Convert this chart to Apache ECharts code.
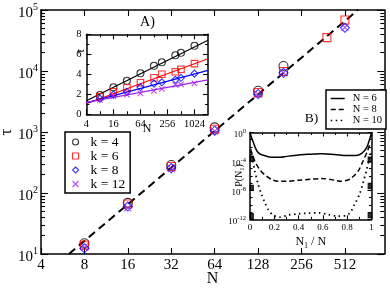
<!DOCTYPE html>
<html><head><meta charset="utf-8">
<script src="https://cdn.jsdelivr.net/npm/echarts@6/dist/echarts.min.js"></script>
<style>html,body{margin:0;padding:0;background:#fff}#c{width:390px;height:288px}</style>
</head><body><div id="c"></div>
<script>
// ---------------- main plot data ----------------
const mainN   = [8, 16, 32, 64, 128, 192, 384, 512];
const mainK4  = [15, 69, 287, 1190, 4750, 12100, null, null];
const mainK6  = [14, 66, 272, 1110, 4450, 9800, 35200, 68500];
const mainK8  = [12.4, 60, 256, 1050, 4200, 9350, null, 51000];
const mainK12 = [13, 57, 250, 1030, 4150, 9300, null, 52000];
const fitN    = [6.25, 631];
const fitTau  = [10, 100000];
const mainXTicks = [4, 8, 16, 32, 64, 128, 256, 512];
const mainYTicks = [10, 100, 1000, 10000, 100000];
const mainYMinor = [20,30,40,50,60,70,80,90,200,300,400,500,600,700,800,900,
  2000,3000,4000,5000,6000,7000,8000,9000,20000,30000,40000,50000,60000,70000,80000,90000];
const kNames = ['k = 4', 'k = 6', 'k = 8', 'k = 12'];

// ---------------- inset A data ----------------
const insetN   = [8, 16, 32, 64, 128, 192, 384, 512, 1024];
const insetK4  = [1.93, 2.7, 3.35, 4.1, 4.85, 5.2, 5.9, 6.15, 6.85];
const insetK6  = [1.75, 2.25, 2.65, 3.15, 3.65, 4.0, 4.25, 4.5, 5.07];
const insetK8  = [1.57, 1.97, 2.25, 2.7, 3.07, 3.2, 3.45, 3.65, 4.07];
const insetK12 = [1.45, 1.83, 1.97, 2.1, 2.35, 2.55, 2.95, 3.0, 3.1];
const insetFitN   = [4, 2048];
const insetFitK4  = [1.35, 7.4];
const insetFitK6  = [1.05, 5.55];
const insetFitK8  = [1.15, 4.4];
const insetFitK12 = [1.2, 3.45];
const insetXTicks = [4, 16, 64, 256, 1024];
const insetXMinor = [8, 32, 128, 512];

// ---------------- inset B data ----------------
const pX6 = [0, 0.015, 0.03, 0.055, 0.08, 0.1, 0.15, 0.2, 0.25, 0.3, 0.4, 0.5, 0.55, 0.6, 0.7, 0.8, 0.87, 0.92, 0.96, 0.985, 1];
const pY6 = [0.89, 0.16, 0.032, 3.2e-3, 1.1e-3, 7.9e-4, 4.5e-4, 3.8e-4, 3.8e-4, 5.0e-4, 7.9e-4, 1.0e-3, 1.1e-3, 1.2e-3, 8.9e-4, 6.6e-4, 6.6e-4, 1.3e-3, 7.9e-3, 0.13, 0.89];
const pX8 = [0.005, 0.04, 0.08, 0.12, 0.18, 0.23, 0.3, 0.4, 0.5, 0.59, 0.7, 0.75, 0.8, 0.83, 0.89, 0.93, 0.966, 0.985];
const pY8 = [5.0e-3, 1.07e-4, 7.4e-6, 1.5e-6, 3.1e-7, 1.8e-7, 1.8e-7, 2.5e-7, 3.5e-7, 4.3e-7, 2.5e-7, 1.8e-7, 2.5e-7, 4.3e-7, 4.5e-6, 1.07e-4, 2.5e-3, 2.1e-2];
const pX10 = [0.005, 0.019, 0.04, 0.068, 0.096, 0.123, 0.15, 0.19, 0.247, 0.315, 0.4, 0.48, 0.56, 0.64, 0.72, 0.81, 0.86, 0.9, 0.93, 0.957, 0.977, 0.993];
const pY10 = [2.5e-3, 3.0e-4, 4.5e-6, 6.3e-8, 2.6e-9, 1.9e-10, 2.3e-11, 3.8e-12, 2.0e-12, 3.8e-12, 5.8e-12, 7.1e-12, 7.9e-12, 4.7e-12, 2.8e-12, 4.7e-12, 1.1e-10, 2.6e-9, 1.07e-7, 4.5e-6, 1.07e-4, 1.5e-3];
const endLeftX = [0, 0, 0];
const endLeftY = [2.5e-4, 2.2e-8, 2.8e-12];
const endRightX = [1, 1, 1];
const endRightY = [1.8e-4, 4.0e-8, 3.8e-12];
const insetBYTicks = [1e-12, 1e-8, 1e-4, 1];
const insetBYMinor = [1e-11, 1e-10, 1e-9, 1e-7, 1e-6, 1e-5, 1e-3, 1e-2, 1e-1];
const nNames = ['N = 6', 'N = 8', 'N = 10'];

// ---------------- styling ----------------
const FONT = '"Liberation Serif", "DejaVu Serif", serif';
const BLACK = '#000', RED = '#ff0000', BLUE = '#0000ff', PURPLE = '#a020f0';
const XPATH = 'path://M0,0L10,10M10,0L0,10';
const CLEAR = 'rgba(0,0,0,0)';

function pairs(xs, ys) { const o = []; for (let i = 0; i < xs.length; i++) if (ys[i] != null) o.push([xs[i], ys[i]]); return o; }
function aline(show) { return {show: show, onZero: false, lineStyle: {color: BLACK, width: 1.5}}; }
function tick(len, vals) { const t = {show: true, inside: true, length: len, lineStyle: {color: BLACK, width: 1.1}}; if (vals) t.customValues = vals; return t; }
function ax(o) { return Object.assign({splitLine: {show: false}, silent: true, nameMoveOverlap: false, axisLabel: {show: false}}, o); }
const supFmt = v => '{b|10}{s|' + Math.round(Math.log10(v)) + '}';

const xAxis = [
  ax({type: 'log', logBase: 2, gridIndex: 0, min: 4, max: 960, position: 'bottom', axisLine: aline(true), axisTick: tick(6, mainXTicks),
      axisLabel: {show: true, customValues: mainXTicks, formatter: v => String(Math.round(v)), fontFamily: FONT, fontSize: 15, color: BLACK, margin: 4},
      name: 'N', nameLocation: 'middle', nameGap: 17, nameTextStyle: {fontFamily: FONT, fontSize: 16, color: BLACK}}),
  ax({type: 'log', logBase: 2, gridIndex: 0, min: 4, max: 960, position: 'top', axisLine: aline(true), axisTick: tick(6, mainXTicks)}),
  ax({type: 'log', logBase: 2, gridIndex: 1, min: 4, max: 2048, position: 'bottom', axisLine: aline(true), axisTick: tick(5, insetXTicks),
      axisLabel: {show: true, customValues: insetXTicks, formatter: v => String(Math.round(v)), fontFamily: FONT, fontSize: 10.5, color: BLACK, margin: 4},
      name: 'N', nameLocation: 'middle', nameGap: 9, nameTextStyle: {fontFamily: FONT, fontSize: 12, color: BLACK}}),
  ax({type: 'log', logBase: 2, gridIndex: 1, min: 4, max: 2048, position: 'bottom', axisLine: aline(false), axisTick: tick(3, insetXMinor)}),
  ax({type: 'log', logBase: 2, gridIndex: 1, min: 4, max: 2048, position: 'top', axisLine: aline(true), axisTick: tick(5, insetXTicks)}),
  ax({type: 'log', logBase: 2, gridIndex: 1, min: 4, max: 2048, position: 'top', axisLine: aline(false), axisTick: tick(3, insetXMinor)}),
  ax({type: 'value', gridIndex: 2, min: 0, max: 1, interval: 0.2, position: 'bottom', axisLine: aline(true), axisTick: tick(4),
      minorTick: {show: true, splitNumber: 2, length: 2.5, lineStyle: {color: BLACK, width: 1}},
      axisLabel: {show: true, fontFamily: FONT, fontSize: 9, color: BLACK, margin: 4},
      name: 'N{s|1} / N', nameLocation: 'middle', nameGap: 15,
      nameTextStyle: {fontFamily: FONT, fontSize: 12, color: BLACK, lineHeight: 16, rich: {s: {fontFamily: FONT, fontSize: 8, color: BLACK, verticalAlign: 'bottom', lineHeight: 8}}}}),
  ax({type: 'value', gridIndex: 2, min: 0, max: 1, interval: 0.2, position: 'top', axisLine: aline(true), axisTick: tick(4),
      minorTick: {show: true, splitNumber: 2, length: 2.5, lineStyle: {color: BLACK, width: 1}}})
];

const yAxis = [
  ax({type: 'log', logBase: 10, gridIndex: 0, min: 10, max: 100000, position: 'left', axisLine: aline(true), axisTick: tick(7, mainYTicks),
      axisLabel: {show: true, customValues: mainYTicks, formatter: supFmt, margin: 3, padding: [6, 0, 0, 0],
        rich: {b: {fontFamily: FONT, fontSize: 15, color: BLACK, lineHeight: 22}, s: {fontFamily: FONT, fontSize: 10, color: BLACK, verticalAlign: 'top', lineHeight: 10}}},
      name: 'τ', nameLocation: 'middle', nameRotate: 90, nameGap: 26, nameTextStyle: {fontFamily: FONT, fontSize: 17, color: BLACK}}),
  ax({type: 'log', logBase: 10, gridIndex: 0, min: 10, max: 100000, position: 'left', axisLine: aline(false), axisTick: tick(4, mainYMinor)}),
  ax({type: 'log', logBase: 10, gridIndex: 0, min: 10, max: 100000, position: 'right', axisLine: aline(true), axisTick: tick(7, mainYTicks)}),
  ax({type: 'log', logBase: 10, gridIndex: 0, min: 10, max: 100000, position: 'right', axisLine: aline(false), axisTick: tick(4, mainYMinor)}),
  ax({type: 'value', gridIndex: 1, min: 0, max: 8, interval: 2, position: 'left', axisLine: aline(true), axisTick: tick(5),
      minorTick: {show: true, splitNumber: 2, length: 3, lineStyle: {color: BLACK, width: 1}},
      axisLabel: {show: true, fontFamily: FONT, fontSize: 10.5, color: BLACK, margin: 5}}),
  ax({type: 'value', gridIndex: 1, min: 0, max: 8, interval: 2, position: 'right', axisLine: aline(true), axisTick: tick(5),
      minorTick: {show: true, splitNumber: 2, length: 3, lineStyle: {color: BLACK, width: 1}}}),
  ax({type: 'log', logBase: 10, gridIndex: 2, min: 1e-12, max: 1, position: 'left', axisLine: aline(true), axisTick: tick(4, insetBYTicks),
      axisLabel: {show: true, customValues: insetBYTicks, formatter: supFmt, margin: 4, padding: [4, 0, 0, 0],
        rich: {b: {fontFamily: FONT, fontSize: 9, color: BLACK, lineHeight: 14}, s: {fontFamily: FONT, fontSize: 6.5, color: BLACK, verticalAlign: 'top', lineHeight: 7}}}}),
  ax({type: 'log', logBase: 10, gridIndex: 2, min: 1e-12, max: 1, position: 'left', axisLine: aline(false), axisTick: tick(2.5, insetBYMinor)}),
  ax({type: 'log', logBase: 10, gridIndex: 2, min: 1e-12, max: 1, position: 'right', axisLine: aline(true), axisTick: tick(4, insetBYTicks)}),
  ax({type: 'log', logBase: 10, gridIndex: 2, min: 1e-12, max: 1, position: 'right', axisLine: aline(false), axisTick: tick(2.5, insetBYMinor)})
];

function scatter(name, xi, yi, data, sym, size, color, filled) {
  return {type: 'scatter', name: name, xAxisIndex: xi, yAxisIndex: yi, data: data, symbol: sym, symbolSize: size, z: 4,
    itemStyle: {color: filled ? color : CLEAR, borderColor: color, borderWidth: 1.1}};
}
function fitLine(name, xi, yi, data, color, width, type) {
  return {type: 'line', name: name, xAxisIndex: xi, yAxisIndex: yi, data: data, symbol: 'none', z: 3,
    itemStyle: {color: color}, lineStyle: {color: color, width: width, type: type || 'solid'}};
}

const series = [
  scatter(kNames[0], 0, 0, pairs(mainN, mainK4), 'circle', 9, BLACK),
  scatter(kNames[1], 0, 0, pairs(mainN, mainK6), 'rect', 8, RED),
  scatter(kNames[2], 0, 0, pairs(mainN, mainK8), 'diamond', 9, BLUE),
  scatter(kNames[3], 0, 0, pairs(mainN, mainK12), XPATH, 7, PURPLE),
  fitLine('fit', 0, 0, pairs(fitN, fitTau), BLACK, 2, [8, 5]),
  // inset A
  fitLine('A fit 4', 2, 4, pairs(insetFitN, insetFitK4), BLACK, 1.2),
  fitLine('A fit 6', 2, 4, pairs(insetFitN, insetFitK6), RED, 1.2),
  fitLine('A fit 8', 2, 4, pairs(insetFitN, insetFitK8), BLUE, 1.2),
  fitLine('A fit 12', 2, 4, pairs(insetFitN, insetFitK12), PURPLE, 1.2),
  scatter('A k4', 2, 4, pairs(insetN, insetK4), 'circle', 7, BLACK),
  scatter('A k6', 2, 4, pairs(insetN, insetK6), 'rect', 6.5, RED),
  scatter('A k8', 2, 4, pairs(insetN, insetK8), 'diamond', 7, BLUE),
  scatter('A k12', 2, 4, pairs(insetN, insetK12), XPATH, 5.5, PURPLE),
  // inset B
  Object.assign(fitLine(nNames[0], 6, 8, pairs(pX6, pY6), BLACK, 1.5), {smooth: 0.3}),
  Object.assign(fitLine(nNames[1], 6, 8, pairs(pX8, pY8), BLACK, 1.5, [5, 3]), {smooth: 0.3}),
  Object.assign(fitLine(nNames[2], 6, 8, pairs(pX10, pY10), BLACK, 1.8, [1.5, 3.5]), {smooth: 0.3}),
  Object.assign(scatter('B ends L', 6, 8, pairs(endLeftX, endLeftY), 'rect', [3.5, 5], BLACK, true), {symbolOffset: [1.7, 0]}),
  Object.assign(scatter('B ends R', 6, 8, pairs(endRightX, endRightY), 'rect', [3.5, 5], BLACK, true), {symbolOffset: [-1.7, 0]})
];

const kIcons = [['circle', BLACK], ['rect', RED], ['diamond', BLUE], [XPATH, PURPLE]];
const kLegendData = kNames.map((n, i) => ({name: n, icon: kIcons[i][0],
  itemStyle: {color: CLEAR, borderColor: kIcons[i][1], borderWidth: 1.1}}));

const option = {
  animation: false,
  backgroundColor: '#fff',
  grid: [
    {left: 41, top: 10, width: 343.3, height: 244, outerBoundsMode: 'none', containLabel: false},
    {left: 86.4, top: 34.3, width: 121.6, height: 80, outerBoundsMode: 'none', containLabel: false, show: true, backgroundColor: '#fff', borderWidth: 0},
    {left: 250, top: 132.5, width: 121.5, height: 86.8, outerBoundsMode: 'none', containLabel: false, show: true, backgroundColor: '#fff', borderWidth: 0}
  ],
  xAxis: xAxis,
  yAxis: yAxis,
  legend: [
    {data: kLegendData, orient: 'vertical', left: 65, top: 132, padding: [3, 5, 2, 7], itemGap: 0,
      itemWidth: 6, itemHeight: 6, borderColor: BLACK, borderWidth: 1.5, backgroundColor: '#fff', selectedMode: false,
      textStyle: {fontFamily: FONT, fontSize: 13.5, lineHeight: 12.8, height: 12.8, color: BLACK, padding: [0, 0, 0, 7]}},
    {data: nNames, orient: 'vertical', left: 326, top: 90, padding: [3, 4, 3, 4], itemGap: 0,
      itemWidth: 14, itemHeight: 8, borderColor: BLACK, borderWidth: 1.5, backgroundColor: '#fff', selectedMode: false,
      itemStyle: {color: CLEAR, borderColor: CLEAR, borderWidth: 0},
      lineStyle: {width: 1.5}, textStyle: {fontFamily: FONT, fontSize: 10.5, lineHeight: 9.5, height: 9.5, color: BLACK, padding: [0, 0, 0, 3]}}
  ],
  graphic: [
    {type: 'text', x: 147.5, y: 22.5, style: {text: 'A)', font: '14px ' + FONT, fill: BLACK, align: 'center', verticalAlign: 'middle'}},
    {type: 'text', x: 311.5, y: 118, style: {text: 'B)', font: '13.5px ' + FONT, fill: BLACK, align: 'center', verticalAlign: 'middle'}},
    {type: 'text', x: 80.5, y: 51, rotation: Math.PI / 2, style: {text: 'τ', font: '12px ' + FONT, fill: BLACK, align: 'center', verticalAlign: 'middle'}},
    {type: 'text', x: 239.5, y: 175.5, rotation: Math.PI / 2, style: {text: 'P(N{s|1})', fontFamily: FONT, fontSize: 10, fill: BLACK, lineHeight: 13, align: 'center', verticalAlign: 'middle',
      rich: {s: {fontFamily: FONT, fontSize: 6.5, fill: BLACK, verticalAlign: 'bottom', lineHeight: 7}}}}
  ],
  series: series
};

const chart = echarts.init(document.getElementById('c'), null, {renderer: 'canvas'});
chart.setOption(option);
</script></body></html>
